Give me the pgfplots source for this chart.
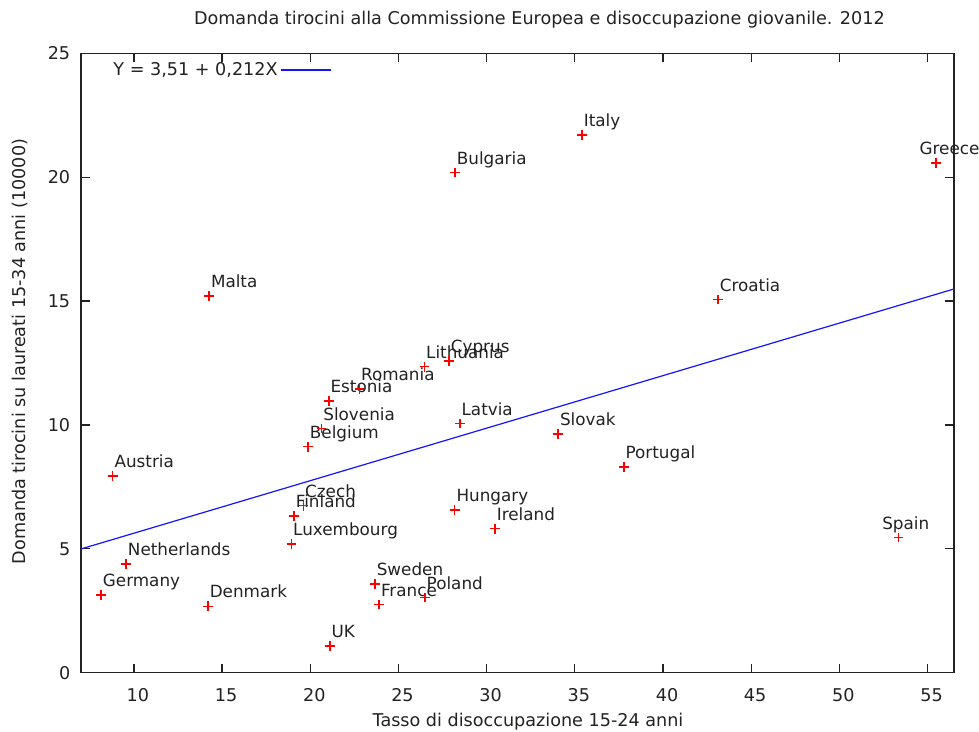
\documentclass[border=0pt]{standalone}
\usepackage{pgfplots}
\pgfplotsset{compat=1.18}
\usepackage{pgfplotstable}
\usepackage{fontspec}
\setmainfont{DejaVu Sans}

% youth unemployment (x), traineeship demand per 10000 graduates (y)
\pgfplotstableread{
x y name dx
8.14 3.14 Germany 0
8.80 7.94 Austria 0
9.56 4.39 Netherlands 0
14.20 2.68 Denmark 0
14.27 15.20 Malta 0
21.11 1.08 UK 0
18.93 5.19 Luxembourg 0
19.08 6.32 Finland 0
19.61 6.74 Czech 0
19.88 9.12 Belgium 0
20.64 9.86 Slovenia 0
21.05 10.96 Estonia 0
22.78 11.46 Romania 0
26.47 12.35 Lithuania 0
27.87 12.59 Cyprus 0
28.48 10.06 Latvia 0
34.06 9.63 Slovak 0
28.19 6.57 Hungary 0
30.48 5.81 Ireland 0
23.67 3.58 Sweden 0
23.91 2.76 France 0
26.50 3.03 Poland 0
28.21 20.19 Bulgaria 0
35.41 21.70 Italy 0
37.78 8.31 Portugal 0
53.35 5.45 Spain -9
43.12 15.07 Croatia 0
55.47 20.58 Greece -9
}\countries

% fitted line Y = 3.51 + 0.212 X at the ends of the x range
\pgfplotstableread{
x y
7 4.994
56.5 15.488
}\fit

\definecolor{txt}{RGB}{34,34,34}
\definecolor{ptred}{RGB}{255,0,0}
\definecolor{fitblue}{RGB}{20,20,255}
\newcommand{\lblfont}{\fontsize{8.4pt}{10pt}\selectfont}
\newcommand{\axfont}{\fontsize{8.8pt}{10.5pt}\selectfont}

\begin{document}
\begin{tikzpicture}[font=\axfont, text=txt]
\useasboundingbox (-40.5pt,-29.65pt) rectangle (449pt,336.35pt);
\begin{axis}[
  at={(0,0)}, anchor=south west,
  scale only axis, width=436.5pt, height=309.7pt,
  xmin=7, xmax=56.5, ymin=0, ymax=25,
  xtick={10,15,...,55}, ytick={0,5,...,25},
  major tick length=4.5pt,
  axis line style={txt, line width=0.6pt},
  tick style={txt, line width=0.6pt},
  /pgf/number format/assume math mode=true,
  ticklabel style={font=\axfont, text=txt},
  xticklabel style={inner sep=0pt, anchor=north, yshift=-7.8pt, xshift=2pt},
  yticklabel style={inner sep=0pt, anchor=east, xshift=-5.2pt},
  clip=false,
  legend plot pos=right,
  legend image code/.code={\draw[#1] (0pt,0pt) -- (25pt,0pt);},
  legend style={draw=none, fill=none, inner sep=0pt, font=\axfont,
    at={(axis description cs:0.0367,0.973)}, anchor=west,
    nodes={inner sep=0pt, text=txt}, column sep=1.2pt},
]
% country names
\addplot[draw=none, no markers, forget plot,
  point meta=explicit symbolic,
  visualization depends on={\thisrow{dx} \as \dx},
  nodes near coords,
  nodes near coords align={center},
  every node near coord/.append style={anchor=base west, inner sep=0pt,
    xshift=0.7pt+\dx pt, yshift=4.15pt, text=txt, font=\lblfont}]
  table[x=x, y=y, meta=name]{\countries};

% country points
\addplot[only marks, mark=+, mark size=2.4pt, color=ptred,
  mark options={line width=0.75pt, draw=ptred, solid}, forget plot]
  table[x=x, y=y]{\countries};

\addplot[fitblue, line width=0.6pt, no marks] table[x=x, y=y]{\fit};
\addlegendentry{Y = 3,51 + 0,212X}

\node at (axis description cs:0.525,1.054) {Domanda tirocini alla Commissione Europea e disoccupazione giovanile. 2012};
\node at (axis description cs:0.512,-0.0796) {Tasso di disoccupazione 15-24 anni};
\node[rotate=90] at (axis description cs:-0.0699,0.5186) {Domanda tirocini su laureati 15-34 anni (10000)};
\end{axis}
\end{tikzpicture}
\end{document}
